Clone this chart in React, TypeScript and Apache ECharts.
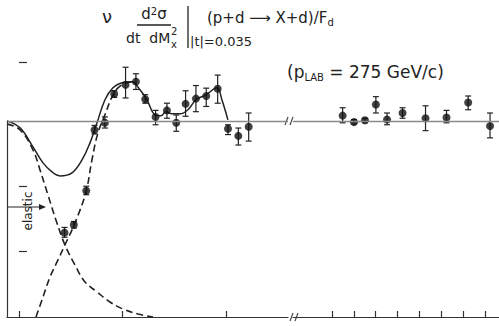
import React, { useEffect, useRef } from "react";
import * as echarts from "echarts";

// ---- axis ranges (value units) ----
const LEFT_MIN = -0.116;
const LEFT_MAX = 2.6;
const RIGHT_MIN = -1.78;
const RIGHT_MAX = 7.64;
const Y_MAX = 3.9;
const REF_LEVEL = 3;
const leftTicks = [0, 1, 2];
const rightTicks = [0, 1, 2, 3, 4, 5, 6, 7];
const yTicks = [1, 2, 3.89];

// ---- data: left section ----
const leftX = [0.44, 0.53, 0.65, 0.73, 0.83, 0.92, 1.03, 1.13, 1.22, 1.32, 1.43, 1.52, 1.61, 1.71, 1.81, 1.92, 2.02, 2.12, 2.22];
const leftY = [1.29, 1.41, 1.93, 2.86, 2.97, 3.41, 3.55, 3.6, 3.33, 3.06, 3.16, 2.97, 3.26, 3.34, 3.38, 3.49, 2.88, 2.77, 2.91];
const leftLo = [1.22, 1.36, 1.87, 2.8, 2.89, 3.36, 3.35, 3.48, 3.27, 2.94, 3.04, 2.84, 3.07, 3.14, 3.22, 3.27, 2.79, 2.63, 2.69];
const leftHi = [1.37, 1.46, 2.0, 2.93, 3.06, 3.46, 3.82, 3.72, 3.4, 3.16, 3.27, 3.09, 3.46, 3.54, 3.5, 3.7, 2.94, 2.89, 3.12];

// ---- data: right section ----
const rightX = [0.49, 1.01, 1.51, 2.01, 2.52, 3.23, 4.28, 5.24, 6.23, 7.23];
const rightY = [3.08, 2.98, 3.01, 3.25, 3.02, 3.12, 3.04, 3.05, 3.28, 2.92];
const rightLo = [2.97, 2.95, 2.97, 3.12, 2.94, 3.04, 2.85, 2.97, 3.17, 2.74];
const rightHi = [3.2, 3.02, 3.04, 3.37, 3.12, 3.2, 3.23, 3.16, 3.38, 3.12];

// ---- fitted curves ----
const totalX = [-0.116, 0.01, 0.135, 0.232, 0.319, 0.396, 0.512, 0.609, 0.686, 0.754, 0.831, 0.908, 0.995, 1.092, 1.169, 1.237, 1.314, 1.372, 1.42, 1.478, 1.556, 1.633, 1.71, 1.807, 1.913, 1.961, 2.019];
const totalY = [3.0, 2.893, 2.602, 2.357, 2.219, 2.158, 2.204, 2.403, 2.663, 2.97, 3.322, 3.505, 3.582, 3.597, 3.475, 3.322, 3.092, 3.077, 3.138, 3.107, 3.107, 3.169, 3.322, 3.398, 3.505, 3.322, 3.015];
const elasticX = [-0.116, 0.01, 0.135, 0.203, 0.28, 0.357, 0.444, 0.541, 0.638, 0.754, 0.879, 1.005, 1.15, 1.295];
const elasticY = [2.954, 2.862, 2.556, 2.25, 1.867, 1.485, 1.102, 0.796, 0.536, 0.383, 0.23, 0.122, 0.046, 0.0];
const inelX = [0.164, 0.232, 0.3, 0.377, 0.444, 0.541, 0.647, 0.705, 0.763, 0.831, 0.899, 0.957, 1.043, 1.121];
const inelY = [0.0, 0.306, 0.612, 0.873, 1.102, 1.439, 1.913, 2.403, 2.816, 3.092, 3.368, 3.505, 3.582, 3.597];

const INK = "#222";
const FONT = "DejaVu Sans";

const zip = (a: number[], b: number[]) => a.map((v, i) => [v, b[i]]);
const zip3 = (a: number[], b: number[], c: number[]) => a.map((v, i) => [v, b[i], c[i]]);

const errRender = (params: any, api: any) => {
  const x = api.value(0);
  const p1 = api.coord([x, api.value(1)]);
  const p2 = api.coord([x, api.value(2)]);
  const w = 3;
  const st = { stroke: INK, lineWidth: 1.2 };
  return {
    type: "group",
    children: [
      { type: "line", shape: { x1: p1[0], y1: p1[1], x2: p2[0], y2: p2[1] }, style: st },
      { type: "line", shape: { x1: p1[0] - w, y1: p1[1], x2: p1[0] + w, y2: p1[1] }, style: st },
      { type: "line", shape: { x1: p2[0] - w, y1: p2[1], x2: p2[0] + w, y2: p2[1] }, style: st },
    ],
  };
};

const xAxisBase = (grid: number, min: number, max: number, ticks: number[]) => ({
  type: "value",
  gridIndex: grid,
  min,
  max,
  axisLine: { show: true, onZero: false, lineStyle: { color: "#333", width: 1.2 } },
  axisTick: { show: true, inside: true, length: 6, customValues: ticks, lineStyle: { color: "#333", width: 1.2 } },
  axisLabel: { show: false },
  splitLine: { show: false },
});

const slash = (cx: number, cy: number) => [
  { type: "line", shape: { x1: cx - 4, y1: cy + 4, x2: cx - 1, y2: cy - 4 }, style: { stroke: "#444", lineWidth: 1.2 } },
  { type: "line", shape: { x1: cx + 1, y1: cy + 4, x2: cx + 4, y2: cy - 4 }, style: { stroke: "#444", lineWidth: 1.2 } },
];

export default function App() {
  const ref = useRef<HTMLDivElement>(null);
  useEffect(() => {
    if (!ref.current) return;
    const chart = echarts.init(ref.current, null, { renderer: "svg" });
    const txt = (x: number, y: number, text: string, size: number, extra: any = {}) => ({
      type: "text",
      x,
      y,
      style: { text, fill: INK, font: `${size}px "${FONT}"`, ...extra },
    });
    chart.setOption({
      animation: false,
      backgroundColor: "#fff",
      grid: [
        { left: 7, top: 62, width: 281, height: 255 },
        { left: 293, top: 62, width: 206, height: 255 },
      ],
      xAxis: [xAxisBase(0, LEFT_MIN, LEFT_MAX, leftTicks), xAxisBase(1, RIGHT_MIN, RIGHT_MAX, rightTicks)],
      yAxis: [
        {
          type: "value",
          gridIndex: 0,
          min: 0,
          max: Y_MAX,
          axisLine: { show: false },
          axisTick: { show: true, inside: true, length: 8, customValues: yTicks, lineStyle: { color: "#333", width: 1.2 } },
          axisLabel: { show: false },
          splitLine: { show: false },
        },
        {
          type: "value",
          gridIndex: 1,
          min: 0,
          max: Y_MAX,
          axisLine: { show: false },
          axisTick: { show: false },
          axisLabel: { show: false },
          splitLine: { show: false },
        },
      ],
      series: [
        {
          type: "line",
          xAxisIndex: 0,
          yAxisIndex: 0,
          data: zip(totalX, totalY),
          smooth: 0.4,
          symbol: "none",
          lineStyle: { color: INK, width: 1.5 },
          markLine: {
            silent: true,
            symbol: "none",
            label: { show: false },
            data: [
              { yAxis: REF_LEVEL, lineStyle: { color: "#8a8a8a", width: 1.3, type: "solid" } },
              [
                { coord: [LEFT_MIN, 0], lineStyle: { color: "#333", width: 1.2, type: "solid" } },
                { coord: [LEFT_MIN, REF_LEVEL] },
              ],
            ],
          },
        },
        {
          type: "line",
          xAxisIndex: 0,
          yAxisIndex: 0,
          data: zip(elasticX, elasticY),
          smooth: 0.4,
          symbol: "none",
          lineStyle: { color: INK, width: 1.6, type: [7, 4] },
        },
        {
          type: "line",
          xAxisIndex: 0,
          yAxisIndex: 0,
          data: zip(inelX, inelY),
          smooth: 0.4,
          symbol: "none",
          lineStyle: { color: INK, width: 1.6, type: [7, 4] },
        },
        {
          type: "custom",
          xAxisIndex: 0,
          yAxisIndex: 0,
          renderItem: errRender,
          encode: { x: 0, y: [1, 2] },
          data: zip3(leftX, leftLo, leftHi),
          z: 3,
        },
        {
          type: "scatter",
          xAxisIndex: 0,
          yAxisIndex: 0,
          data: zip(leftX, leftY),
          symbolSize: 8,
          itemStyle: { color: "#111" },
          z: 4,
        },
        {
          type: "custom",
          xAxisIndex: 1,
          yAxisIndex: 1,
          renderItem: errRender,
          encode: { x: 0, y: [1, 2] },
          data: zip3(rightX, rightLo, rightHi),
          z: 3,
        },
        {
          type: "scatter",
          xAxisIndex: 1,
          yAxisIndex: 1,
          data: zip(rightX, rightY),
          symbolSize: 8,
          itemStyle: { color: "#111" },
          z: 4,
          markLine: {
            silent: true,
            symbol: "none",
            label: { show: false },
            lineStyle: { color: "#8a8a8a", width: 1.3, type: "solid" },
            data: [{ yAxis: REF_LEVEL }],
          },
        },
      ],
      graphic: [
        // title formula
        txt(102, 7, "ν", 18),
        txt(154, 6, "d{s|2}σ", 15, { align: "center", rich: { s: { fontSize: 10, verticalAlign: "top", fill: INK, fontFamily: FONT } } }),
        { type: "line", shape: { x1: 137, y1: 25, x2: 171, y2: 25 }, style: { stroke: INK, lineWidth: 1.3 } },
        txt(126, 31, "dt  dM", 14),
        txt(171, 26, "2", 10),
        txt(171, 39, "x", 10),
        { type: "line", shape: { x1: 188, y1: 6, x2: 188, y2: 48 }, style: { stroke: INK, lineWidth: 1.3 } },
        txt(207, 9, "(p+d ⟶ X+d)/F{b|d}", 15, { rich: { b: { fontSize: 10, verticalAlign: "bottom", fill: INK, fontFamily: FONT, padding: [8, 0, 0, 0] } } }),
        txt(190, 35, "|t|=0.035", 13),
        txt(287, 61, "(p{b|LAB} = 275 GeV/c)", 17, { rich: { b: { fontSize: 10, fill: INK, fontFamily: FONT, padding: [11, 0, 0, 0] } } }),
        // elastic annotation
        { type: "line", shape: { x1: 8, y1: 207, x2: 41, y2: 207 }, style: { stroke: INK, lineWidth: 1.2 } },
        { type: "polygon", shape: { points: [[46, 207], [39, 204], [39, 210]] }, style: { fill: INK } },
        {
          type: "text",
          x: 28,
          y: 211,
          rotation: Math.PI / 2,
          style: { text: "elastic", fill: INK, font: `12px "${FONT}"`, align: "center", verticalAlign: "middle" },
        },
        // axis breaks
        ...slash(289, 121),
        ...slash(294, 317),
      ],
    });
    return () => chart.dispose();
  }, []);
  return <div ref={ref} style={{ position: "fixed", left: 0, top: 0, width: 499, height: 326 }} />;
}
